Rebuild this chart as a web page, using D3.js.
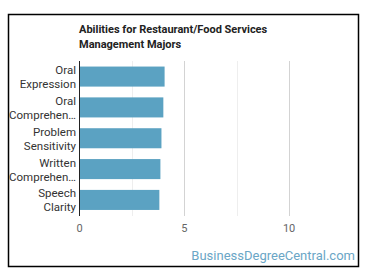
<!DOCTYPE html>
<meta charset="utf-8">
<style>
body {
  margin: 0;
  background-color: white;
  font-family: Roboto, "Noto Sans", sans-serif;
}
svg {
  display: block;
}
.frame {
  fill: none;
  stroke: black;
  stroke-width: 1.5;
}
.title {
  font-size: 11px;
  font-weight: bold;
  fill: #222;
}
.ylab {
  font-size: 11.5px;
  fill: #333;
}
.xlab {
  font-size: 11px;
  fill: #666;
}
.grid line {
  stroke: #d3d3d3;
  shape-rendering: crispEdges;
}
.grid line.minor {
  stroke: #eeeeee;
}
.bar {
  fill: #5ba2c2;
}
.mark {
  font-size: 13px;
  fill: #6aa6c6;
}
</style>

<script src="https://d3js.org/d3.v7.min.js"></script>

<body>
<script>

// chart data
var categories = ["Oral Expression", "Oral Comprehension", "Problem Sensitivity",
                  "Written Comprehension", "Speech Clarity"];
var labels = [["Oral", "Expression"], ["Oral", "Comprehen\u2026"], ["Problem", "Sensitivity"],
              ["Written", "Comprehen\u2026"], ["Speech", "Clarity"]];
var values = [4.06, 4.0, 3.91, 3.86, 3.81];
var majorTicks = [0, 5, 10];
var minorTicks = [2.5, 7.5];
var title = ["Abilities for Restaurant/Food Services", "Management Majors"];

var W = 370, H = 278;

var svg = d3.select("body").append("svg")
    .attr("width", W)
    .attr("height", H);

// outer frame
svg.append("rect")
    .attr("class", "frame")
    .attr("x", 8.5)
    .attr("y", 14.5)
    .attr("width", 350)
    .attr("height", 252);

// title
svg.append("text")
    .attr("class", "title")
    .selectAll("tspan")
    .data(title)
  .enter().append("tspan")
    .attr("x", 79)
    .attr("y", function(d, i) { return 33 + i * 15; })
    .text(function(d) { return d; });

// scales
var x = d3.scaleLinear()
    .domain([0, 12.4])
    .range([79.5, 79.5 + 12.4 * 20.96]);

var y = d3.scaleBand()
    .domain(categories)
    .range([61, 215.5])
    .paddingInner(0.35)
    .paddingOuter(0.18);

// gridlines
var grid = svg.append("g").attr("class", "grid");
grid.selectAll("line.major")
    .data(majorTicks.slice(1))
  .enter().append("line")
    .attr("class", "major")
    .attr("x1", function(d) { return Math.round(x(d)) + 0.5; })
    .attr("x2", function(d) { return Math.round(x(d)) + 0.5; })
    .attr("y1", 61)
    .attr("y2", 216);
grid.selectAll("line.minor")
    .data(minorTicks)
  .enter().append("line")
    .attr("class", "minor")
    .attr("x1", function(d) { return Math.round(x(d)) + 0.5; })
    .attr("x2", function(d) { return Math.round(x(d)) + 0.5; })
    .attr("y1", 61)
    .attr("y2", 216);

// bars
svg.selectAll(".bar")
    .data(values)
  .enter().append("rect")
    .attr("class", "bar")
    .attr("x", x(0))
    .attr("y", function(d, i) { return y(categories[i]); })
    .attr("width", function(d) { return x(d) - x(0); })
    .attr("height", y.bandwidth());

// y axis line
svg.append("line")
    .attr("x1", x(0))
    .attr("x2", x(0))
    .attr("y1", 61)
    .attr("y2", 216)
    .attr("stroke", "#222")
    .attr("stroke-width", 1);

// category labels (two lines each)
var lab = svg.selectAll(".ylab")
    .data(categories)
  .enter().append("text")
    .attr("class", "ylab")
    .attr("text-anchor", "end");
lab.selectAll("tspan")
    .data(function(d, i) { return labels[i].map(function(t, j) { return {t: t, j: j, c: d}; }); })
  .enter().append("tspan")
    .attr("x", 76)
    .attr("y", function(d) { return y(d.c) + y.bandwidth() / 2 + (d.j === 0 ? -2.5 : 11.5); })
    .text(function(d) { return d.t; });

// x tick labels
svg.selectAll(".xlab")
    .data(majorTicks)
  .enter().append("text")
    .attr("class", "xlab")
    .attr("x", function(d) { return x(d); })
    .attr("y", 232)
    .attr("text-anchor", "middle")
    .text(function(d) { return d; });

// watermark
svg.append("text")
    .attr("class", "mark")
    .attr("x", 355)
    .attr("y", 260)
    .attr("text-anchor", "end")
    .text("BusinessDegreeCentral.com");

</script>
